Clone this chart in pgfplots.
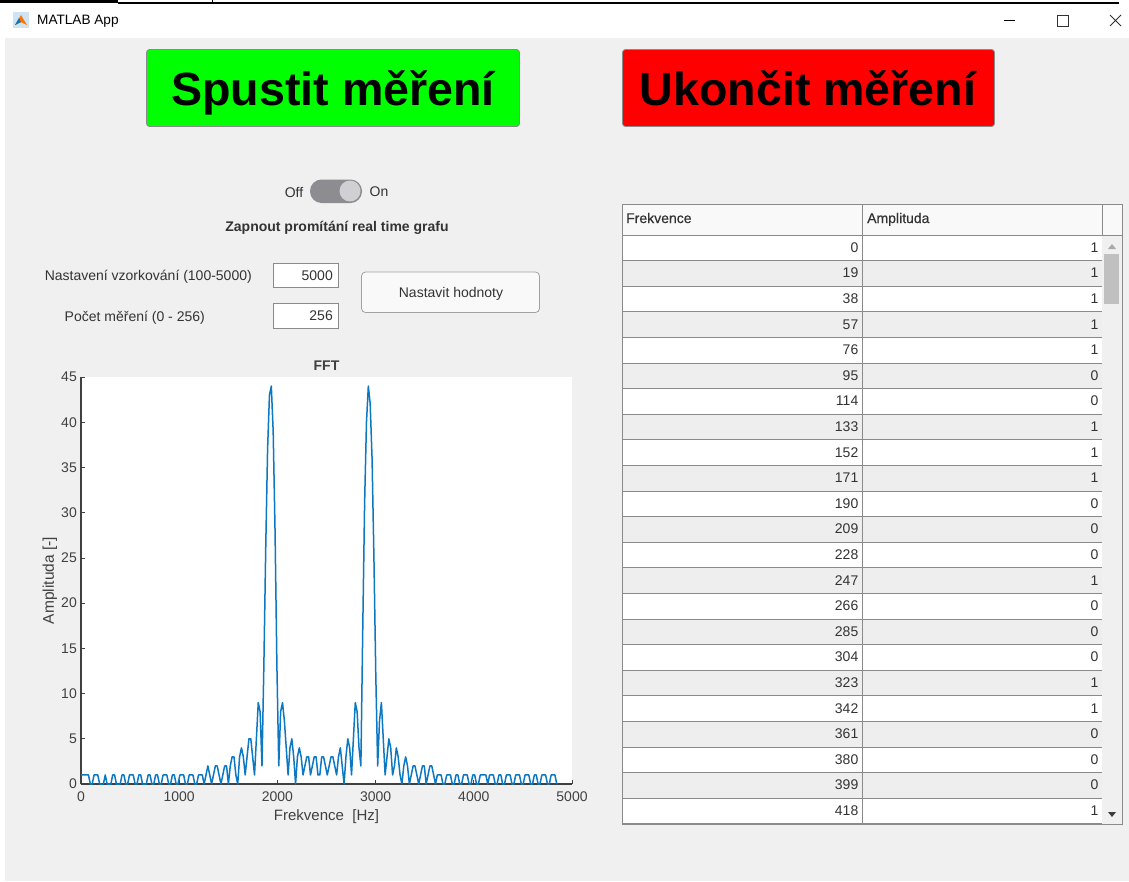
\documentclass[border=0pt]{standalone}
\usepackage{pgfplots}
\pgfplotsset{compat=1.18}
\usepackage{fontspec}
\setmainfont{Liberation Sans}
\definecolor{bg}{HTML}{F0F0F0}
\definecolor{axc}{HTML}{404040}
\definecolor{mline}{HTML}{0C78C2}
\definecolor{uit}{HTML}{333333}
\definecolor{bord}{HTML}{8A8A8A}
\definecolor{pure}{HTML}{00FF00}
\definecolor{pill}{HTML}{8C8C91}
\definecolor{knob}{HTML}{D0D0D2}
\definecolor{rowg}{HTML}{EEEEEE}
\definecolor{thumb}{HTML}{C0C0C0}
\definecolor{arrU}{HTML}{AAAAAA}
\definecolor{arrD}{HTML}{3C3C3C}
\newcommand{\fs}[1]{\fontsize{#1}{#1}\selectfont}
\begin{document}
\begin{tikzpicture}[x=1pt,y=-1pt]
\useasboundingbox (0,0) rectangle (1129,881);
\fill[white] (0,0) rectangle (1129,881);
\fill[bg] (5,38) rectangle (1129,881);
% top edge
\fill[black] (0,0) rectangle (118,3);
\fill[black] (118,2.2) rectangle (1119,3.6);
\fill[black] (212,0) rectangle (213,3);
% title bar
\fill[mline!20] (13,12) rectangle (29,28);
\fill[orange!90!red] (15,25) -- (21,15) -- (27,25) -- (21,22) -- cycle;
\fill[mline] (15,25) -- (19,18) -- (21,22) -- cycle;
\node[anchor=west,text=black,inner sep=0pt] at (37,21) {\fs{13.6}MATLAB App};
\draw[black,line width=1pt] (1004,20.5) -- (1015,20.5);
\draw[black!80,line width=1pt] (1057,15) rectangle (1068,26);
\draw[black!80,line width=1pt] (1110,15) -- (1121,26) (1121,15) -- (1110,26);
% big buttons
\draw[fill=pure,draw=bord,rounded corners=3pt,line width=0.8pt] (146.5,49.5) rectangle (519.5,126.5);
\node[text=black,anchor=base,inner sep=0pt] at (333,105) {\fs{46.6}\bfseries Spustit měření};
\draw[fill=red,draw=bord,rounded corners=3pt,line width=0.8pt] (622.5,49.5) rectangle (994.5,126.5);
\node[text=black,anchor=base,inner sep=0pt] at (808,105) {\fs{46.6}\bfseries Ukončit měření};
% toggle
\node[text=uit,inner sep=0pt] at (294,192) {\fs{14}Off};
\node[text=uit,inner sep=0pt] at (379,192) {\fs{14}On};
\fill[pill,rounded corners=11.5pt] (310,179.5) rectangle (362,203);
\fill[knob] (350,191) circle (10.5);
\node[text=uit,inner sep=0pt] at (337,227.5) {\fs{14}\bfseries Zapnout promítání real time grafu};
% inputs
\node[text=uit,anchor=east,inner sep=0pt] at (252,276.5) {\fs{14}Nastavení vzorkování (100-5000)};
\node[text=uit,anchor=east,inner sep=0pt] at (205,317.5) {\fs{14}Počet měření (0 - 256)};
\draw[fill=white,draw=bord] (273.5,263.5) rectangle (338,287);
\draw[fill=white,draw=bord] (273.5,303.5) rectangle (338,328);
\node[text=uit,anchor=east,inner sep=0pt] at (333,275.5) {\fs{14}5000};
\node[text=uit,anchor=east,inner sep=0pt] at (333,316) {\fs{14}256};
\draw[fill=white!60!bg,draw=bord!80,rounded corners=4pt,line width=0.8pt] (361.5,272) rectangle (539.5,312.5);
\node[text=uit,inner sep=0pt] at (451,293.5) {\fs{14}Nastavit hodnoty};
% table
\fill[white!60!bg] (622,204) rectangle (1122,235);
\foreach \r in {0,...,22}{
  \pgfmathsetmacro{\ya}{235+25.6*\r}
  \pgfmathsetmacro{\yb}{235+25.6*(\r+1)}
  \pgfmathparse{int(mod(\r,2))}
  \ifnum\pgfmathresult=0 \fill[white] (622,\ya) rectangle (1102,\yb);
  \else \fill[rowg] (622,\ya) rectangle (1102,\yb); \fi
}
\foreach \r in {1,...,23}{
  \pgfmathsetmacro{\yb}{235+25.6*\r}
  \draw[bord,line width=0.9pt] (622,\yb) -- (1102,\yb);
}
\draw[bord,line width=0.9pt] (622,204) rectangle (1122,824);
\draw[bord,line width=0.9pt] (622,235) -- (1122,235);
\draw[bord,line width=0.9pt] (862.5,204) -- (862.5,824);
\draw[bord,line width=0.9pt] (1102.5,204) -- (1102.5,235);
\node[text=uit,anchor=base west,inner sep=0pt] at (626,223) {\fs{14}\addfontfeature{FakeBold=0.4}Frekvence};
\node[text=uit,anchor=base west,inner sep=0pt] at (867,223) {\fs{14}\addfontfeature{FakeBold=0.4}Amplituda};
\foreach \r/\fr/\am in {0/0/1,1/19/1,2/38/1,3/57/1,4/76/1,5/95/0,6/114/0,7/133/1,8/152/1,9/171/1,10/190/0,11/209/0,12/228/0,13/247/1,14/266/0,15/285/0,16/304/0,17/323/1,18/342/1,19/361/0,20/380/0,21/399/0,22/418/1}{
  \pgfmathsetmacro{\yc}{247.5+25.6*\r}
  \node[text=uit,anchor=east,inner sep=0pt] at (858.5,\yc) {\fs{14}\fr};
  \node[text=uit,anchor=east,inner sep=0pt] at (1098.5,\yc) {\fs{14}\am};
}
% scrollbar
\fill[thumb] (1104,254) rectangle (1119,304);
\fill[arrU] (1108,249) -- (1116,249) -- (1112,244) -- cycle;
\fill[arrD] (1108,812) -- (1116,812) -- (1112,817) -- cycle;
% plot
\begin{axis}[
  at={(81pt,-784pt)},anchor=south west,
  scale only axis,width=491pt,height=407pt,
  xmin=0,xmax=5000,ymin=0,ymax=45,
  axis lines=left,
  axis line style={-,draw=axc,line width=1.8pt},
  axis background/.style={fill=white},
  tick align=inside,
  major tick length=4pt,
  tick style={draw=axc,line width=0.8pt},
  xtick={0,1000,2000,3000,4000,5000},
  ytick={0,5,10,15,20,25,30,35,40,45},
  x tick label style={text=axc,font=\fs{14},inner sep=2pt,yshift=-6pt},
  y tick label style={text=axc,font=\fs{14},inner sep=4pt},
  scaled x ticks=false,
  /pgf/number format/assume math mode=true,
  /pgf/number format/1000 sep={},
  title={\fs{14}\bfseries FFT},
  title style={text=axc,at={(0.5,1)},anchor=south,yshift=-3pt,inner sep=3pt},
  xlabel={\fs{15}Frekvence~~[Hz]},
  xlabel style={text=axc,inner sep=0pt,yshift=-5pt},
  ylabel={\fs{15.5}Amplituda [-]},
  ylabel style={text=axc,inner sep=0pt,yshift=0pt},
  clip=false,
]
\addplot[mline,line width=1.5pt,line join=round] table[x=x,y=y] {
x y
0 1
19 1
38 1
57 1
76 1
95 0
114 0
133 1
152 1
171 1
190 0
209 0
228 0
247 1
266 0
285 0
304 0
323 1
342 1
361 0
380 0
399 0
418 1
437 1
456 0
475 0
494 1
513 1
532 1
551 0
570 0
589 1
608 1
627 0
646 0
665 0
684 1
703 1
722 0
741 0
760 1
779 1
798 0
817 0
836 1
855 1
874 1
893 0
912 0
931 1
950 1
969 0
988 0
1007 1
1026 1
1045 1
1064 0
1083 0
1102 1
1121 1
1140 1
1159 0
1178 0
1197 1
1216 1
1235 1
1254 0
1273 1
1292 2
1311 1
1330 0
1349 1
1368 2
1387 2
1406 1
1425 0
1444 1
1463 2
1482 2
1501 0
1520 2
1539 3
1558 3
1577 1
1596 0
1615 3
1634 4
1653 3
1672 1
1691 3
1710 5
1729 5
1748 3
1767 1
1786 5
1805 9
1824 8
1843 2
1862 13
1881 26
1900 37
1919 43
1938 44
1957 39
1976 28
1995 13
2014 2
2033 8
2052 9
2071 7
2090 4
2109 1
2128 4
2147 5
2166 3
2185 0
2204 3
2223 4
2242 3
2261 1
2280 2
2299 3
2318 3
2337 1
2356 2
2375 3
2394 3
2413 1
2432 1
2451 3
2470 3
2489 2
2508 1
2527 2
2546 3
2565 3
2584 2
2603 1
2622 3
2641 4
2660 2
2679 0
2698 3
2717 5
2736 4
2755 1
2774 5
2793 9
2812 8
2831 4
2850 2
2869 17
2888 31
2907 40
2926 44
2945 42
2964 36
2983 25
3002 12
3021 2
3040 7
3059 9
3078 5
3097 1
3116 3
3135 5
3154 4
3173 1
3192 2
3211 4
3230 3
3249 1
3268 0
3287 2
3306 3
3325 2
3344 0
3363 1
3382 2
3401 2
3420 1
3439 0
3458 1
3477 2
3496 2
3515 0
3534 1
3553 2
3572 2
3591 1
3610 0
3629 1
3648 1
3667 1
3686 0
3705 0
3724 1
3743 1
3762 1
3781 0
3800 0
3819 1
3838 1
3857 0
3876 0
3895 1
3914 1
3933 1
3952 0
3971 0
3990 1
4009 1
4028 0
4047 0
4066 1
4085 1
4104 1
4123 1
4142 0
4161 1
4180 1
4199 1
4218 0
4237 0
4256 1
4275 1
4294 0
4313 0
4332 1
4351 1
4370 1
4389 0
4408 0
4427 1
4446 1
4465 1
4484 0
4503 0
4522 1
4541 1
4560 1
4579 0
4598 0
4617 1
4636 1
4655 0
4674 0
4693 1
4712 1
4731 1
4750 0
4769 0
4788 1
4807 1
4826 1
4845 0
};
\end{axis}
\end{tikzpicture}
\end{document}
